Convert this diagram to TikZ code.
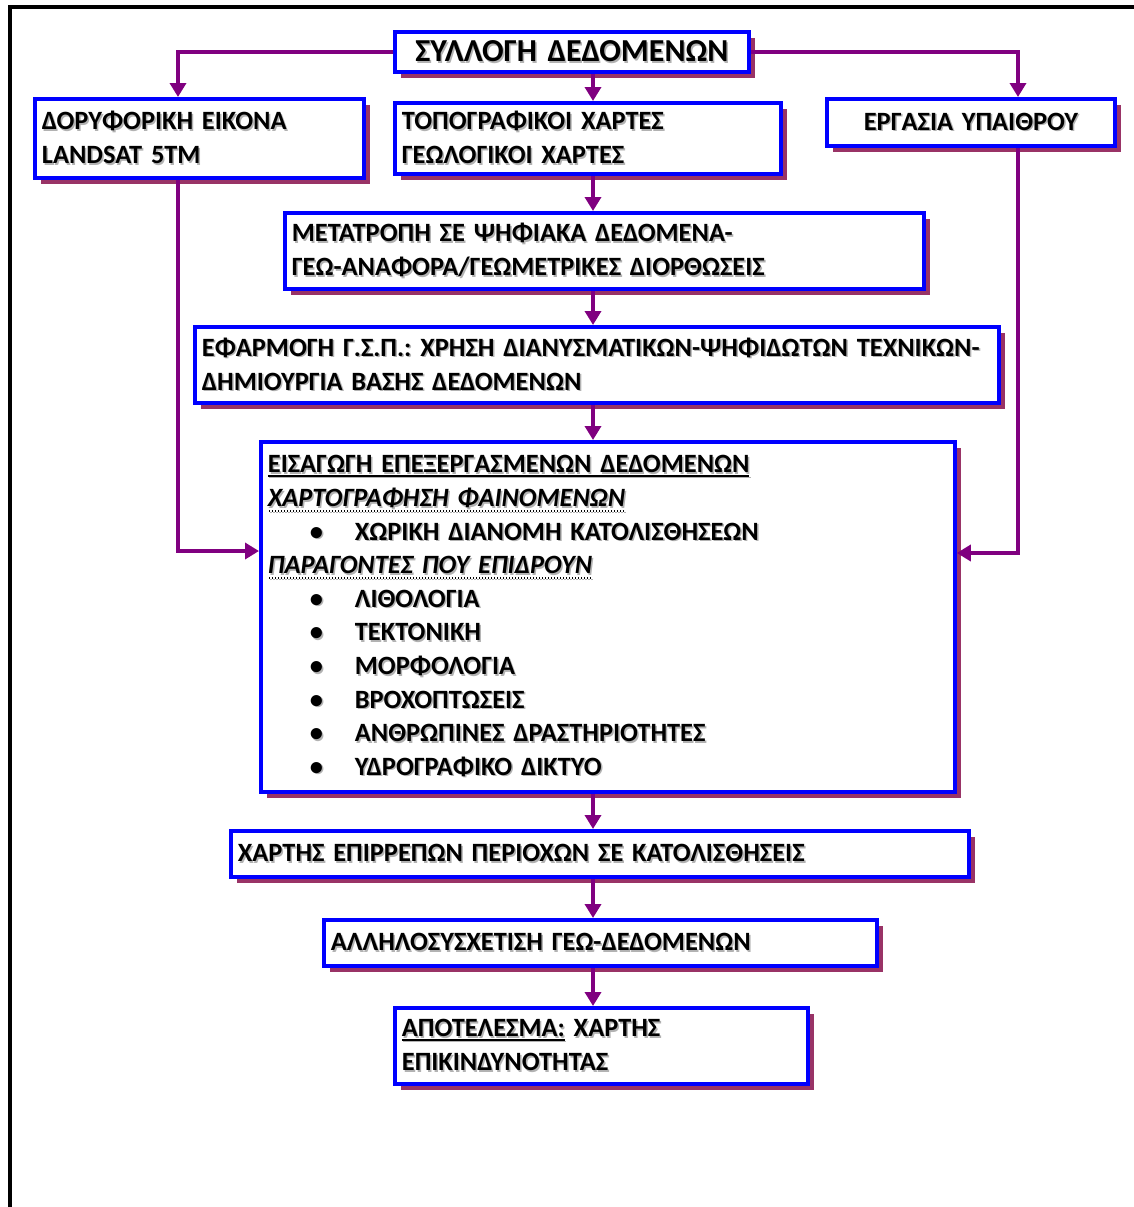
\documentclass[tikz,border=0pt]{standalone}
\usepackage{fontspec}
\setmainfont{Carlito}
\usetikzlibrary{arrows.meta,shadows}
\frenchspacing
\newcommand{\tsh}[1]{\mbox{\rlap{\hspace{1.5pt}\raisebox{-1.5pt}{\color{black!30}#1}}#1}}
\newcommand{\itm}[1]{\tsh{\makebox[87pt][l]{\hspace{42pt}•}#1}}
\newcommand{\solul}[1]{\setbox0\hbox{#1}\rlap{\rule[-4pt]{\wd0}{1.6pt}}\box0\relax}
\newcommand{\dotul}[1]{\setbox0\hbox{#1}\rlap{\hbox to \wd0{\xleaders\hbox to 3pt{\hss\rule[-5pt]{1.5pt}{1.5pt}\hss}\hfill}}\box0\relax}
\begin{document}
\begin{tikzpicture}[x=1pt, y=-1pt,
  box/.style={draw=boxblue, line width=3.8pt, fill=white, anchor=north west, inner xsep=7pt, inner ysep=0pt, align=left,
    drop shadow={shadow xshift=6pt, shadow yshift=-6pt, fill=boxshadow, opacity=1},
    font=\bfseries\fontsize{26.4}{33.6}\selectfont},
  link/.style={draw=linkpurple, line width=3.5pt, -{Triangle[length=14pt, width=16pt]}}]
\definecolor{boxblue}{HTML}{0000FF}
\definecolor{boxshadow}{HTML}{993366}
\definecolor{linkpurple}{HTML}{800080}
\useasboundingbox (0,0) rectangle (1134,1207);
\draw[line width=4pt] (10,1207) -- (10,7) -- (1134,7);
\coordinate (spine) at (593,0);
\coordinate (lbend) at (178,551);
\coordinate (rbend) at (1018,553);
\node[box, text width=340pt, minimum height=40pt, align=center, font=\bfseries\fontsize{32}{36}\selectfont] (collect) at (393,30) {\tsh{ΣΥΛΛΟΓΗ ΔΕΔΟΜΕΝΩΝ}};
\node[box, text width=315pt, minimum height=79pt] (sat) at (33,97) {\tsh{ΔΟΡΥΦΟΡΙΚΗ ΕΙΚΟΝΑ}\\\tsh{LANDSAT 5TM}};
\node[box, text width=372pt, minimum height=71pt] (maps) at (393,101) {\tsh{ΤΟΠΟΓΡΑΦΙΚΟΙ ΧΑΡΤΕΣ}\\\tsh{ΓΕΩΛΟΓΙΚΟΙ ΧΑΡΤΕΣ}};
\node[box, text width=274pt, minimum height=47pt, align=center] (field) at (825,97) {\tsh{ΕΡΓΑΣΙΑ ΥΠΑΙΘΡΟΥ}};
\node[box, text width=625pt, minimum height=76pt] (digit) at (283,211) {\tsh{ΜΕΤΑΤΡΟΠΗ ΣΕ ΨΗΦΙΑΚΑ ΔΕΔΟΜΕΝΑ-}\\\tsh{ΓΕΩ-ΑΝΑΦΟΡΑ/ΓΕΩΜΕΤΡΙΚΕΣ ΔΙΟΡΘΩΣΕΙΣ}};
\node[box, text width=790pt, minimum height=76pt] (gis) at (193,325) {\tsh{ΕΦΑΡΜΟΓΗ Γ.Σ.Π.: ΧΡΗΣΗ ΔΙΑΝΥΣΜΑΤΙΚΩΝ-ΨΗΦΙΔΩΤΩΝ ΤΕΧΝΙΚΩΝ-}\\\tsh{ΔΗΜΙΟΥΡΓΙΑ ΒΑΣΗΣ ΔΕΔΟΜΕΝΩΝ}};
\node[box, text width=680pt, minimum height=350pt] (input) at (259,440) {\tsh{\solul{ΕΙΣΑΓΩΓΗ ΕΠΕΞΕΡΓΑΣΜΕΝΩΝ ΔΕΔΟΜΕΝΩΝ}}\\
  \tsh{\dotul{\itshape ΧΑΡΤΟΓΡΑΦΗΣΗ ΦΑΙΝΟΜΕΝΩΝ}}\\
  \itm{ΧΩΡΙΚΗ ΔΙΑΝΟΜΗ ΚΑΤΟΛΙΣΘΗΣΕΩΝ}\\
  \tsh{\dotul{\itshape ΠΑΡΑΓΟΝΤΕΣ ΠΟΥ ΕΠΙΔΡΟΥΝ}}\\
  \itm{ΛΙΘΟΛΟΓΙΑ}\\
  \itm{ΤΕΚΤΟΝΙΚΗ}\\
  \itm{ΜΟΡΦΟΛΟΓΙΑ}\\
  \itm{ΒΡΟΧΟΠΤΩΣΕΙΣ}\\
  \itm{ΑΝΘΡΩΠΙΝΕΣ ΔΡΑΣΤΗΡΙΟΤΗΤΕΣ}\\
  \itm{ΥΔΡΟΓΡΑΦΙΚΟ ΔΙΚΤΥΟ}};
\node[box, text width=724pt, minimum height=46pt] (hazard) at (229,829) {\tsh{ΧΑΡΤΗΣ ΕΠΙΡΡΕΠΩΝ ΠΕΡΙΟΧΩΝ ΣΕ ΚΑΤΟΛΙΣΘΗΣΕΙΣ}};
\node[box, text width=539pt, minimum height=46pt] (correl) at (322,918) {\tsh{ΑΛΛΗΛΟΣΥΣΧΕΤΙΣΗ ΓΕΩ-ΔΕΔΟΜΕΝΩΝ}};
\node[box, text width=399pt, minimum height=76pt] (result) at (393,1006) {\tsh{\solul{ΑΠΟΤΕΛΕΣΜΑ:} ΧΑΡΤΗΣ}\\\tsh{ΕΠΙΚΙΝΔΥΝΟΤΗΤΑΣ}};
\draw[link] (collect.west) -| (sat.north -| lbend);
\draw[link] (collect.east) -| (field.north -| rbend);
\draw[link] (collect.south -| spine) -- (maps.north -| spine);
\draw[link] (maps.south -| spine) -- (digit.north -| spine);
\draw[link] (digit.south -| spine) -- (gis.north -| spine);
\draw[link] (gis.south -| spine) -- (input.north -| spine);
\draw[link] (sat.south -| lbend) |- (input.west |- lbend);
\draw[link] (field.south -| rbend) |- (input.east |- rbend);
\draw[link] (input.south -| spine) -- (hazard.north -| spine);
\draw[link] (hazard.south -| spine) -- (correl.north -| spine);
\draw[link] (correl.south -| spine) -- (result.north -| spine);
\end{tikzpicture}
\end{document}
